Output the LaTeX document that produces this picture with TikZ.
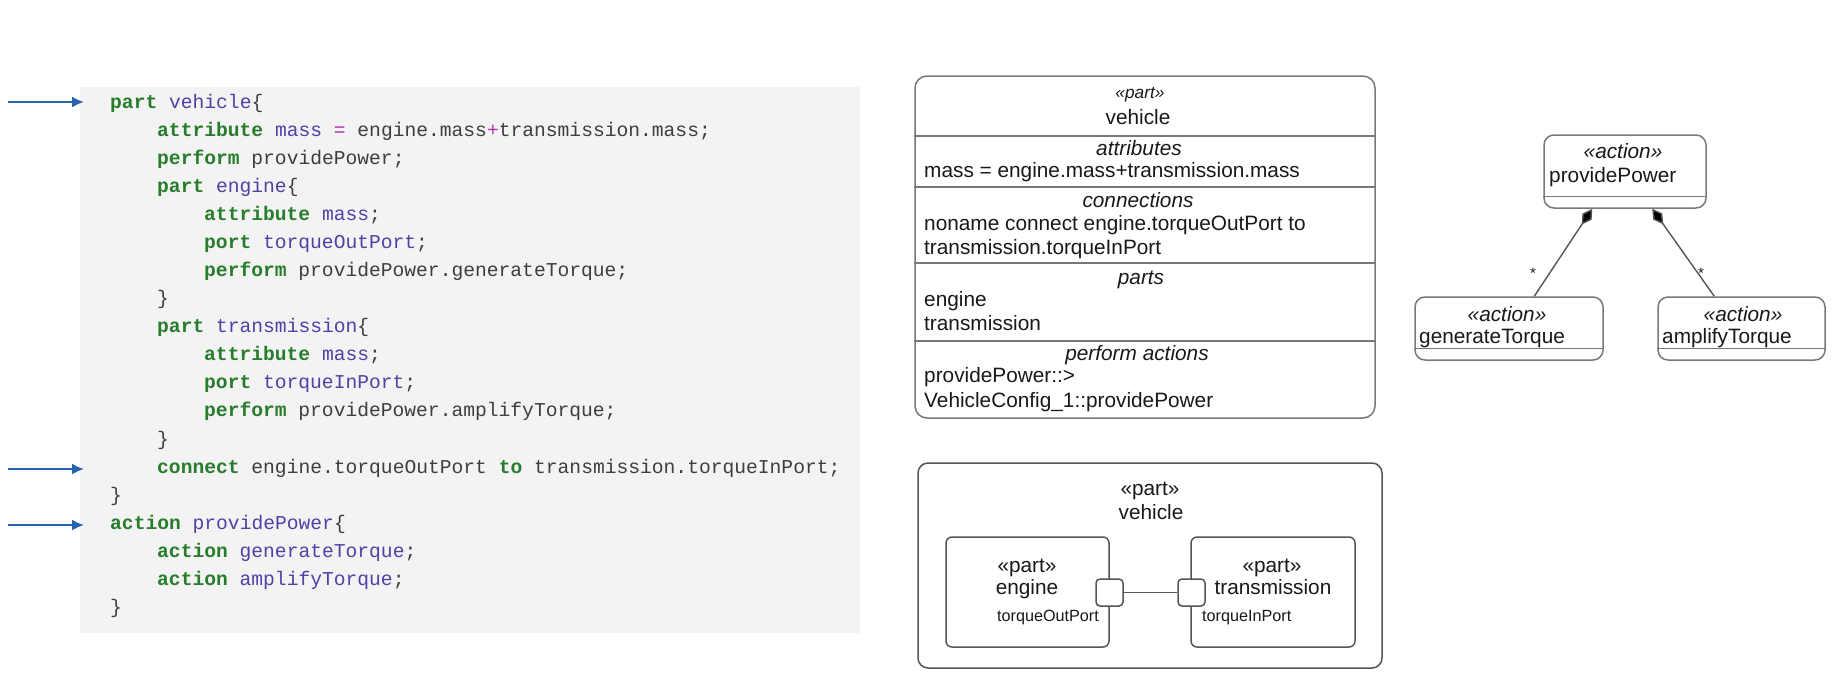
\documentclass[tikz,border=0pt]{standalone}
\usepackage{fontspec}
\setmainfont{Liberation Sans}
\newfontfamily\codefont{Liberation Mono}
\usetikzlibrary{arrows.meta,calc}
\definecolor{kwc}{RGB}{40,125,45}
\definecolor{idc}{RGB}{78,66,165}
\definecolor{opc}{RGB}{175,50,175}
\definecolor{plainc}{RGB}{62,62,62}
\definecolor{codebg}{RGB}{243,243,243}
\definecolor{arrowc}{RGB}{40,100,170}
\definecolor{boxc}{RGB}{120,120,120}
\definecolor{darkc}{RGB}{85,85,85}
\definecolor{txtc}{RGB}{25,25,25}
\newcommand{\kw}[1]{\textcolor{kwc}{\bfseries #1}}
\newcommand{\idn}[1]{\textcolor{idc}{#1}}
\newcommand{\opn}[1]{\textcolor{opc}{#1}}
\begin{document}
\begin{tikzpicture}[x=1pt,y=-1pt,
  codeline/.style={anchor=base west, inner sep=0pt, font=\codefont\fontsize{19.63}{24}\selectfont, text=plainc},
  pointer/.style={draw=arrowc, line width=2pt, -{Latex[length=12pt,width=11pt]}},
  lbl/.style={anchor=base west, inner sep=0pt, text=txtc, font=\fontsize{20.8}{24}\selectfont},
  ctr/.style={anchor=base, inner sep=0pt, text=txtc, font=\fontsize{20.8}{24}\selectfont},
  ctri/.style={ctr, font=\fontsize{20.8}{24}\selectfont\itshape},
  smallhdr/.style={ctr, font=\fontsize{17.3}{20}\selectfont\itshape},
  portlbl/.style={anchor=base, inner sep=0pt, text=txtc, font=\fontsize{16.2}{18}\selectfont},
  umlbox/.style={draw=boxc, line width=1.5pt, inner sep=0pt},
  sep/.style={draw=boxc, line width=2pt},
  blk/.style={draw=darkc, line width=1.5pt, inner sep=0pt},
  portbox/.style={draw=darkc, fill=white, line width=1.5pt, rounded corners=4pt, minimum width=27pt, minimum height=27pt, inner sep=0pt},
  comp/.style={draw=darkc, line width=1.4pt, {Diamond[length=19pt,width=11pt,fill=black]}-},
  mult/.style={anchor=base, inner sep=0pt, text=txtc, font=\fontsize{15}{16}\selectfont}
]
\useasboundingbox (0,0) rectangle (1832,681);
\fill[white] (0,0) rectangle (1832,681);

% ---------- code panel ----------
\node[fill=codebg, inner sep=0pt, minimum width=780pt, minimum height=546pt] (code) at (470,360) {};
\node[codeline] (c0)  at (110,108.0) {\kw{part} \idn{vehicle}\{};
\node[codeline] (c1)  at (157,136.1) {\kw{attribute} \idn{mass} \opn{=} engine.mass\opn{+}transmission.mass;};
\node[codeline] (c2)  at (157,164.2) {\kw{perform} providePower;};
\node[codeline] (c3)  at (157,192.2) {\kw{part} \idn{engine}\{};
\node[codeline] (c4)  at (204,220.3) {\kw{attribute} \idn{mass};};
\node[codeline] (c5)  at (204,248.4) {\kw{port} \idn{torqueOutPort};};
\node[codeline] (c6)  at (204,276.5) {\kw{perform} providePower.generateTorque;};
\node[codeline] (c7)  at (157,304.6) {\}};
\node[codeline] (c8)  at (157,332.6) {\kw{part} \idn{transmission}\{};
\node[codeline] (c9)  at (204,360.7) {\kw{attribute} \idn{mass};};
\node[codeline] (c10) at (204,388.8) {\kw{port} \idn{torqueInPort};};
\node[codeline] (c11) at (204,416.9) {\kw{perform} providePower.amplifyTorque;};
\node[codeline] (c12) at (157,445.0) {\}};
\node[codeline] (c13) at (157,473.0) {\kw{connect} engine.torqueOutPort \kw{to} transmission.torqueInPort;};
\node[codeline] (c14) at (110,501.1) {\}};
\node[codeline] (c15) at (110,529.2) {\kw{action} \idn{providePower}\{};
\node[codeline] (c16) at (157,557.3) {\kw{action} \idn{generateTorque};};
\node[codeline] (c17) at (157,585.4) {\kw{action} \idn{amplifyTorque};};
\node[codeline] (c18) at (110,613.4) {\}};

\coordinate (p1s) at (8,102);   \coordinate (p1e) at (84,102);
\coordinate (p2s) at (8,469);   \coordinate (p2e) at (84,469);
\coordinate (p3s) at (8,525);   \coordinate (p3e) at (84,525);
\draw[pointer] (p1s) -- (p1e);
\draw[pointer] (p2s) -- (p2e);
\draw[pointer] (p3s) -- (p3e);

% ---------- compartment box ----------
\node[umlbox, rounded corners=12pt, minimum width=460pt, minimum height=342pt] (pv) at (1145,247) {};
\draw[sep] ($(pv.north west)+(0,61)$) -- ($(pv.north east)+(0,61)$);
\draw[sep] ($(pv.north west)+(0,112)$) -- ($(pv.north east)+(0,112)$);
\draw[sep] ($(pv.north west)+(0,188)$) -- ($(pv.north east)+(0,188)$);
\draw[sep] ($(pv.north west)+(0,266)$) -- ($(pv.north east)+(0,266)$);
\node[smallhdr] (v1) at (1140,98) {«part»};
\node[ctr] (v2) at (1138,124) {vehicle};
\node[ctri] (v3) at (1139,155) {attributes};
\node[lbl] (v4) at (924,177) {mass = engine.mass+transmission.mass};
\node[ctri] (v5) at (1138,207) {connections};
\node[lbl] (v6) at (924,230) {noname connect engine.torqueOutPort to};
\node[lbl] (v7) at (924,254) {transmission.torqueInPort};
\node[ctri] (v8) at (1141,284) {parts};
\node[lbl] (v9) at (924,306) {engine};
\node[lbl] (v10) at (924,330) {transmission};
\node[ctri] (v11) at (1137,360) {perform actions};
\node[lbl] (v12) at (924,382) {providePower::>};
\node[lbl] (v13) at (924,407) {VehicleConfig\_1::providePower};

% ---------- interconnection box ----------
\node[blk, rounded corners=10pt, minimum width=464pt, minimum height=205pt] (vb) at (1150,565.5) {};
\node[ctr] (b1) at (1150,495) {«part»};
\node[ctr] (b2) at (1151,519) {vehicle};
\node[blk, rounded corners=6pt, minimum width=163pt, minimum height=110pt] (eb) at (1027.5,592) {};
\node[blk, rounded corners=6pt, minimum width=164pt, minimum height=110pt] (tb) at (1273,592) {};
\node[ctr] (e1) at (1027,572) {«part»};
\node[ctr] (e2) at (1027,594) {engine};
\node[portlbl] (e3) at (1048,621) {torqueOutPort};
\node[ctr] (t1) at (1272,572) {«part»};
\node[ctr] (t2) at (1273,594) {transmission};
\node[portlbl, anchor=base west] (t3) at (1202,621) {torqueInPort};
\node[portbox] (ep) at (1109.5,592.5) {};
\node[portbox] (tp) at (1191.5,592.5) {};
\draw[draw=darkc, line width=1.5pt] (ep.east) -- (tp.west);

% ---------- action tree ----------
\node[umlbox, rounded corners=10pt, minimum width=162pt, minimum height=73pt] (pp) at (1625,171.5) {};
\draw[draw=boxc, line width=1.2pt] ($(pp.south west)+(0,-12)$) -- ($(pp.south east)+(0,-12)$);
\node[ctri] (pp1) at (1623,158) {«action»};
\node[lbl] (pp2) at (1549,182) {providePower};
\node[umlbox, rounded corners=10pt, minimum width=188pt, minimum height=63pt] (gt) at (1509,328.5) {};
\draw[draw=boxc, line width=1.2pt] ($(gt.south west)+(0,-12)$) -- ($(gt.south east)+(0,-12)$);
\node[ctri] (gt1) at (1507,321) {«action»};
\node[lbl] (gt2) at (1419,343) {generateTorque};
\node[umlbox, rounded corners=10pt, minimum width=167pt, minimum height=63pt] (at) at (1741.5,328.5) {};
\draw[draw=boxc, line width=1.2pt] ($(at.south west)+(0,-12)$) -- ($(at.south east)+(0,-12)$);
\node[ctri] (at1) at (1743,321) {«action»};
\node[lbl] (at2) at (1662,343) {amplifyTorque};
\draw[comp] ($(pp.south west)+(49,0)$) -- ($(gt.north west)+(120,0)$);
\draw[comp] ($(pp.south west)+(109,0)$) -- ($(at.north west)+(57,0)$);
\node[mult] (m1) at (1533,278) {*};
\node[mult] (m2) at (1701,278) {*};
\end{tikzpicture}
\end{document}
